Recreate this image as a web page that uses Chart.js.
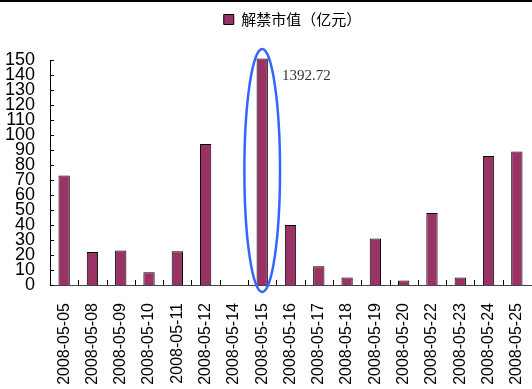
<!DOCTYPE html>
<html>
<head>
<meta charset="utf-8">
<script src="https://cdn.jsdelivr.net/npm/chart.js@4/dist/chart.umd.min.js"></script>
<style>
  html, body { margin: 0; padding: 0; background: #fff; }
  #wrap { position: relative; width: 532px; height: 389px; overflow: hidden; }
  #topline { position: absolute; left: 0; top: 0; width: 532px; height: 2px; background: #000; }
</style>
</head>
<body>
<div id="wrap">
  <canvas id="chart" width="532" height="389"></canvas>
  <div id="topline"></div>
</div>
<script>
// dates of the unlock days
const dates = ['2008-05-05', '2008-05-08', '2008-05-09', '2008-05-10', '2008-05-11', '2008-05-12',
    '2008-05-14', '2008-05-15', '2008-05-16', '2008-05-17', '2008-05-18', '2008-05-19',
    '2008-05-20', '2008-05-22', '2008-05-23', '2008-05-24', '2008-05-25']
// unlock market value, 100 million yuan (05-15 is off the scale)
const unlockValues = [73, 22, 23, 8.5, 22.5, 94, 0, 1392.72, 40, 12.5, 5, 31, 3, 48, 5, 86, 89]
const yTicks = [0, 10, 20, 30, 40, 50, 60, 70, 80, 90, 100, 110, 120, 130, 140, 150]
const seriesName = '解禁市值（亿元）'
const highlightIndex = 7

const yMax = yTicks[yTicks.length - 1]
const barColor = '#993366'

// bars taller than the axis get cut just above the top
const shownValues = unlockValues.map(v => Math.min(v, yMax + 1))

// legend sits a bit right of centre and higher up, like the excel original
const legendShift = {
    id: 'legendShift',
    afterLayout(chart) {
        const lg = chart.legend
        const dx = 27, dy = -23
        lg.left += dx
        lg.right += dx
        lg.top += dy
        lg.bottom += dy
    }
}

// small inward ticks + the blue ellipse and the real value label
const extras = {
    id: 'extras',
    afterDatasetsDraw(chart) {
        const ctx = chart.ctx
        const x = chart.scales.x
        const y = chart.scales.y
        const step = x.getPixelForValue(1) - x.getPixelForValue(0)

        ctx.save()
        ctx.strokeStyle = '#000'
        ctx.lineWidth = 1
        ctx.beginPath()
        for (let i = 1; i < dates.length; i++) {
            let px = Math.round(x.getPixelForValue(i) - step / 2) + 0.5
            ctx.moveTo(px, y.bottom)
            ctx.lineTo(px, y.bottom - 5)
        }
        yTicks.forEach(t => {
            let py = Math.round(y.getPixelForValue(t)) + 0.5
            ctx.moveTo(x.left, py)
            ctx.lineTo(x.left + 4, py)
        })
        ctx.stroke()

        // ellipse round the off-scale bar
        const cx = x.getPixelForValue(highlightIndex)
        const top = y.getPixelForValue(yMax) - 11
        const bottom = y.getPixelForValue(0) + 7
        ctx.strokeStyle = '#3366ff'
        ctx.lineWidth = 2.5
        ctx.beginPath()
        ctx.ellipse(cx, (top + bottom) / 2, step * 0.63, (bottom - top) / 2, 0, 0, Math.PI * 2)
        ctx.stroke()

        ctx.fillStyle = '#333'
        ctx.font = '15px "Liberation Serif", serif'
        ctx.textBaseline = 'middle'
        ctx.fillText(unlockValues[highlightIndex].toFixed(2), cx + step * 0.7, y.getPixelForValue(yMax) + 16)
        ctx.restore()
    }
}

new Chart(document.getElementById('chart'), {
    type: 'bar',
    data: {
        labels: dates,
        datasets: [{
            label: seriesName,
            data: shownValues,
            backgroundColor: barColor,
            borderColor: '#000',
            borderWidth: 1,
            borderSkipped: 'bottom',
            categoryPercentage: 1,
            barPercentage: 0.4,
            clip: false
        }]
    },
    options: {
        responsive: false,
        animation: false,
        layout: { padding: { top: 23, right: 1, left: 0, bottom: 0 } },
        plugins: {
            legend: {
                position: 'top',
                labels: {
                    color: '#333',
                    font: { family: '"Noto Sans CJK SC", sans-serif', size: 15 },
                    boxWidth: 10,
                    boxHeight: 10,
                    padding: 12,
                    generateLabels(chart) {
                        return [{
                            text: seriesName,
                            fillStyle: barColor,
                            strokeStyle: '#000',
                            lineWidth: 1,
                            datasetIndex: 0
                        }]
                    }
                }
            },
            tooltip: { enabled: false }
        },
        scales: {
            x: {
                grid: { display: false, drawTicks: false },
                border: { color: '#444', width: 1 },
                ticks: {
                    color: '#000',
                    font: { family: '"Liberation Sans", Arial, sans-serif', size: 16 },
                    minRotation: 90,
                    maxRotation: 90,
                    autoSkip: false,
                    padding: 18
                },
                afterFit(scale) {
                    scale.height = 104
                    // the rotated labels do not need extra room at the sides
                    scale.paddingLeft = 0
                    scale.paddingRight = 0
                }
            },
            y: {
                min: 0,
                max: yMax,
                grid: { display: false, drawTicks: false },
                border: { color: '#000', width: 1 },
                ticks: {
                    stepSize: 10,
                    autoSkip: false,
                    color: '#000',
                    font: { family: '"Liberation Sans Narrow", "Arial Narrow", "Liberation Sans", sans-serif', size: 18, lineHeight: 1 },
                    padding: 15
                },
                afterFit(scale) { scale.width = 50 }
            }
        }
    },
    plugins: [legendShift, extras]
})
</script>
</body>
</html>
